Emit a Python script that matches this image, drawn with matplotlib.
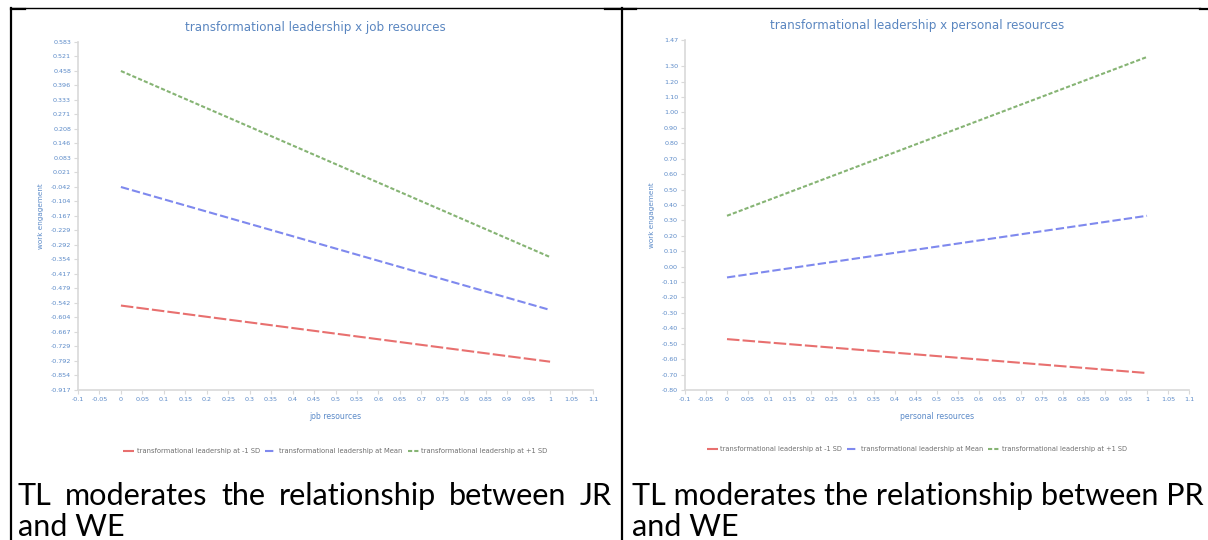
import matplotlib
matplotlib.use("Agg")
import matplotlib.pyplot as plt
from matplotlib.lines import Line2D
import numpy as np

W, H = 1208, 540

# ---------------- data ----------------
x_vals = [0, 1]
series_names = ["transformational leadership at -1 SD",
                "transformational leadership at Mean",
                "transformational leadership at +1 SD"]

jr_low = [-0.553, -0.795]
jr_mean = [-0.042, -0.572]
jr_high = [0.458, -0.344]

pr_low = [-0.47, -0.69]
pr_mean = [-0.07, 0.33]
pr_high = [0.33, 1.36]

jr_ytick_labels = ["0.583", "0.521", "0.458", "0.396", "0.333", "0.271", "0.208",
                   "0.146", "0.083", "0.021", "-0.042", "-0.104", "-0.167",
                   "-0.229", "-0.292", "-0.354", "-0.417", "-0.479", "-0.542",
                   "-0.604", "-0.667", "-0.729", "-0.792", "-0.854", "-0.917"]
pr_ytick_labels = ["-0.80", "-0.70", "-0.60", "-0.50", "-0.40", "-0.30", "-0.20",
                   "-0.10", "0.00", "0.10", "0.20", "0.30", "0.40", "0.50", "0.60",
                   "0.70", "0.80", "0.90", "1.00", "1.10", "1.20", "1.30", "1.47"]
xtick_labels = ["-0.1", "-0.05", "0", "0.05", "0.1", "0.15", "0.2", "0.25", "0.3",
                "0.35", "0.4", "0.45", "0.5", "0.55", "0.6", "0.65", "0.7", "0.75",
                "0.8", "0.85", "0.9", "0.95", "1", "1.05", "1.1"]

titles = ["transformational leadership x job resources",
          "transformational leadership x personal resources"]
xlabels = ["job resources", "personal resources"]
ylabel = "work engagement"
captions = [("TL moderates the relationship between JR", "and WE"),
            ("TL moderates the relationship between PR", "and WE")]

# ---------------- style ----------------
col_red = "#e8706f"
col_blue = "#7f89ee"
col_green = "#86b474"
tick_col = "#5b8ac8"
title_col = "#5a86c0"
spine_col = "#d9d9d9"
styles = [dict(color=col_red, ls=(0, (6, 1.5)), lw=1.5),
          dict(color=col_blue, ls=(0, (4, 1.5)), lw=1.5),
          dict(color=col_green, ls=(0, (2, 1)), lw=1.5)]

fig = plt.figure(figsize=(W / 100, H / 100), dpi=100)
fig.patch.set_facecolor("white")


def px_rect(x0, x1, ytop, ybot):
    return [x0 / W, 1 - ybot / H, (x1 - x0) / W, (ybot - ytop) / H]


def style_axes(ax, yticks, ylabels, xlab, title):
    ax.set_xlim(-0.1, 1.1)
    xt = [float(s) for s in xtick_labels]
    ax.set_xticks(xt)
    ax.set_xticklabels(xtick_labels)
    ax.set_yticks(yticks)
    ax.set_yticklabels(ylabels)
    for s in ["top", "right"]:
        ax.spines[s].set_visible(False)
    for s in ["left", "bottom"]:
        ax.spines[s].set_color(spine_col)
        ax.spines[s].set_linewidth(1.2)
    ax.tick_params(axis="both", colors=spine_col, labelcolor=tick_col,
                   labelsize=4.6, length=3, width=0.8, pad=2)
    ax.set_xlabel(xlab, color=tick_col, fontsize=5.6, labelpad=7)
    ax.set_ylabel(ylabel, color=tick_col, fontsize=5.2, labelpad=5)
    ax.set_title(title, color=title_col, fontsize=8.6, pad=8, x=0.46)


# left chart
ax1 = fig.add_axes(px_rect(78, 593, 42, 390))
for vals, name, st in zip([jr_low, jr_mean, jr_high], series_names, styles):
    ax1.plot(x_vals, vals, label=name, **st)
jr_yt = [float(s) for s in jr_ytick_labels]
ax1.set_ylim(min(jr_yt), max(jr_yt))
style_axes(ax1, jr_yt, jr_ytick_labels, xlabels[0], titles[0])
ax1.legend(loc="center", bbox_to_anchor=(0.5, -0.175), ncol=3, frameon=False,
           fontsize=4.9, handlelength=1.6, columnspacing=0.8, handletextpad=0.4,
           labelcolor="#6f6f6f")

# right chart
ax2 = fig.add_axes(px_rect(685, 1189, 40, 390))
for vals, name, st in zip([pr_low, pr_mean, pr_high], series_names, styles):
    ax2.plot(x_vals, vals, label=name, **st)
pr_yt = [float(s) for s in pr_ytick_labels]
ax2.set_ylim(min(pr_yt), max(pr_yt))
style_axes(ax2, pr_yt, pr_ytick_labels, xlabels[1], titles[1])
ax2.legend(loc="center", bbox_to_anchor=(0.46, -0.17), ncol=3, frameon=False,
           fontsize=4.8, handlelength=1.6, columnspacing=0.8, handletextpad=0.4,
           labelcolor="#6f6f6f")

# ---------------- table borders ----------------
def hline(y, x0, x1, lw):
    fig.add_artist(Line2D([x0 / W, x1 / W], [1 - y / H, 1 - y / H], color="black", lw=lw))


def vline(x, y0, y1, lw):
    fig.add_artist(Line2D([x / W, x / W], [1 - y0 / H, 1 - y1 / H], color="black", lw=lw))


hline(8, 11, 1200, 1.0)
vline(11, 8, 540, 1.6)
vline(622, 8, 540, 1.6)
hline(8.5, 11, 25, 1.6)
hline(8.5, 605, 636, 1.6)
hline(8.5, 1200, 1208, 1.6)

# ---------------- captions ----------------
fig.canvas.draw()
renderer = fig.canvas.get_renderer()
cap_font = ["Lato", "DejaVu Sans"]

probe = fig.text(0, 0, captions[1][0], fontsize=18, family=cap_font)
w = probe.get_window_extent(renderer).width
probe.remove()
fs = 18 * 573 / w


def put(x, y, s):
    return fig.text(x / W, 1 - y / H, s, fontsize=fs, family=cap_font,
                    ha="left", va="baseline", color="black")


def justify(words, x0, x1, y):
    widths = []
    for wd in words:
        t = fig.text(0, 0, wd, fontsize=fs, family=cap_font)
        widths.append(t.get_window_extent(renderer).width)
        t.remove()
    gap = (x1 - x0 - sum(widths)) / (len(words) - 1)
    x = x0
    for wd, wv in zip(words, widths):
        put(x, y, wd)
        x += wv + gap


justify(captions[0][0].split(), 18, 612, 505)
put(18, 536, captions[0][1])
put(632, 505, captions[1][0])
put(632, 536, captions[1][1])

fig.savefig("out.png", dpi=100, facecolor="white")
